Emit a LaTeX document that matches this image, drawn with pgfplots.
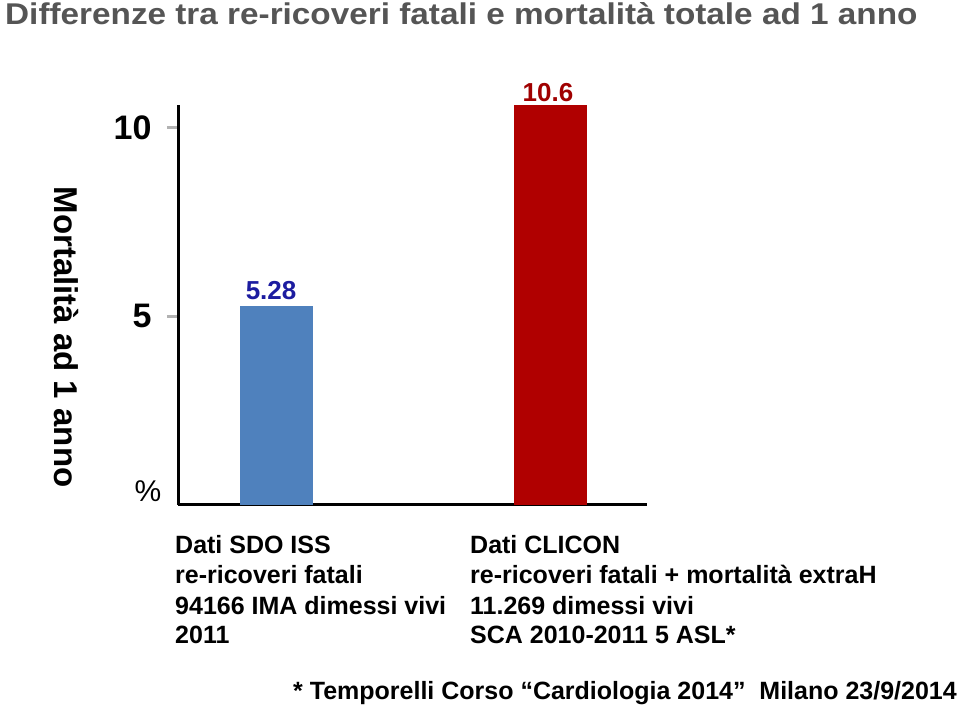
\documentclass[border=0pt]{standalone}
\usepackage{pgfplots}
\pgfplotsset{compat=1.18}
\usepackage{fontspec}
\setmainfont{Liberation Sans}
\newfontfamily\widefont[FakeStretch=1.11]{Liberation Sans}
\definecolor{titlegray}{HTML}{555555}
\definecolor{barblue}{HTML}{4F81BD}
\definecolor{barred}{HTML}{B00000}
\definecolor{lblblue}{HTML}{1C1CA0}
\definecolor{lblred}{HTML}{A00000}
\newcommand{\fs}[1]{\fontsize{#1}{#1}\selectfont}
\begin{document}
\begin{tikzpicture}[x=1pt,y=1pt]
\path[use as bounding box] (0,0) rectangle (960,709);
\node[anchor=base west, inner sep=0, text=titlegray, font=\widefont\fs{30}\bfseries] at (5,684) {Differenze tra re-ricoveri fatali e mortalità totale ad 1 anno};
\begin{axis}[at={(178pt,204pt)}, anchor=south west, scale only axis,
  width=469pt, height=400pt,
  xmin=0.642, xmax=2.354, ymin=0, ymax=10.6,
  axis lines=left, axis line style={line width=3pt, -},
  xtick=\empty, ytick={5,10},
  ytick style={gray!60, line width=2.5pt}, tick align=outside, major tick length=11pt,
  /pgf/number format/assume math mode=true,
  yticklabel style={font=\fs{34}\bfseries, xshift=-12pt},
  ybar, bar width=73pt, bar shift=0pt,
  nodes near coords, nodes near coords style={font=\fs{26}\bfseries},
  clip=false]
\addplot[fill=barblue, draw=none, every node near coord/.append style={text=lblblue, xshift=-5pt, yshift=2pt}] coordinates {(1,5.28)};
\addplot[fill=barred, draw=none, every node near coord/.append style={text=lblred, xshift=-2pt}] coordinates {(2,10.6)};
\end{axis}
\node[anchor=base, inner sep=0, font=\fs{30}] at (148,207) {\%};
\node[rotate=-90, inner sep=0, font=\fs{33}\bfseries] at (66,372) {Mortalità ad 1 anno};
\begin{scope}[every node/.style={anchor=base west, inner sep=0, font=\fs{25}\bfseries}]
\node at (175,155) {Dati SDO ISS};
\node at (175,125) {re-ricoveri fatali};
\node at (175,95) {94166 IMA dimessi vivi};
\node at (175,66) {2011};
\node at (470,155) {Dati CLICON};
\node at (470,125) {re-ricoveri fatali + mortalità extraH};
\node at (470,95) {11.269 dimessi vivi};
\node at (470,66) {SCA 2010-2011 5 ASL*};
\end{scope}
\node[anchor=base east, inner sep=0, font=\fs{25}\bfseries] at (957,10) {* Temporelli Corso “Cardiologia 2014”\ \ Milano 23/9/2014};
\end{tikzpicture}
\end{document}
